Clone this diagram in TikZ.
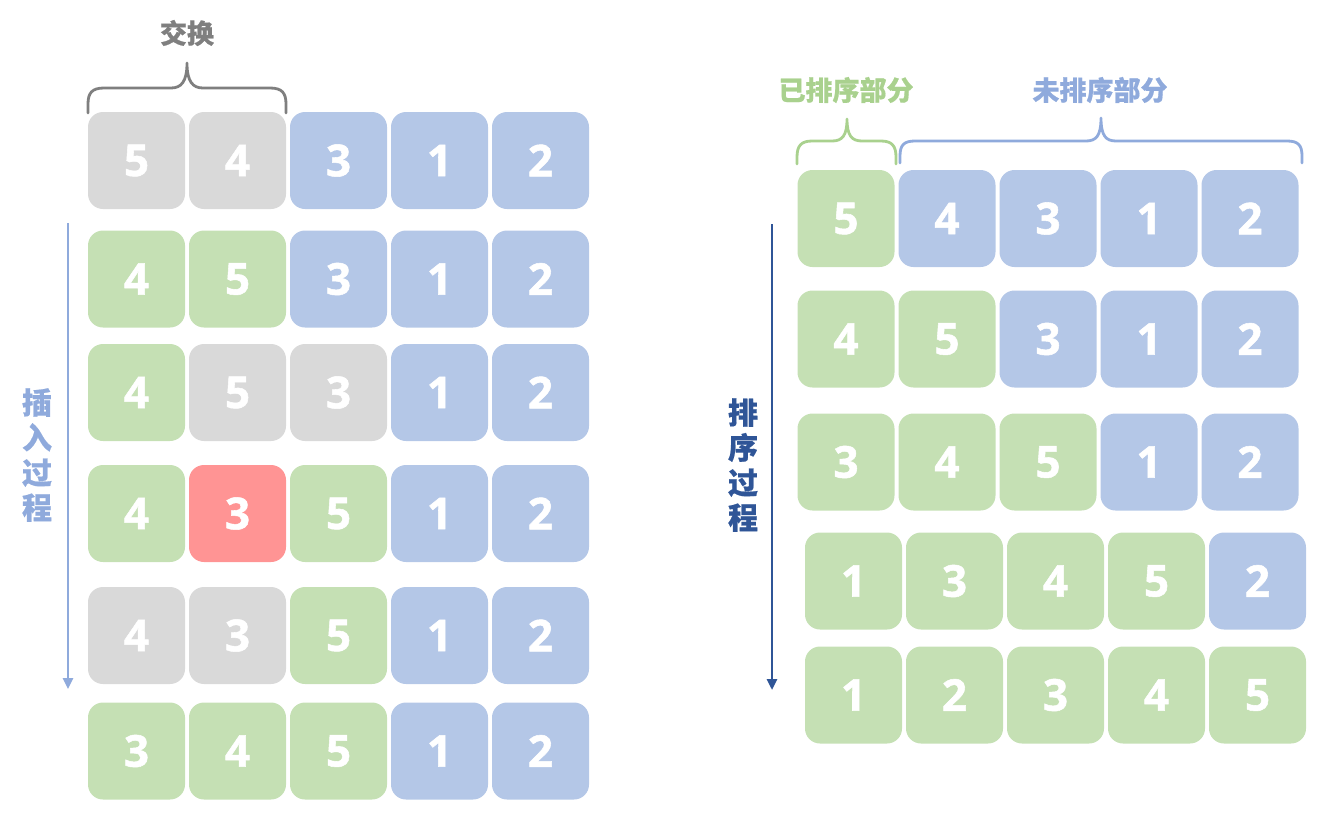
\documentclass[tikz,border=0pt]{standalone}
\usepackage{fontspec}
\usetikzlibrary{arrows.meta}
\newfontfamily\digitfont{Open Sans}[BoldFeatures={FakeBold=1.2}]
\newfontfamily\cjk{Noto Sans CJK SC}[BoldFeatures={FakeBold=0.6}]
\definecolor{cgray}{HTML}{D9D9D9}
\definecolor{cblue}{HTML}{B4C7E7}
\definecolor{cgreen}{HTML}{C5E0B4}
\definecolor{cred}{HTML}{FF9494}
\definecolor{bgray}{HTML}{7F7F7F}
\definecolor{lblue}{HTML}{8FAADC}
\definecolor{dblue}{HTML}{2F5597}
\definecolor{lgreen}{HTML}{A9D18E}
\tikzset{
  cell/.style={rounded corners=15pt, minimum width=97pt, minimum height=97pt, inner sep=0pt,
    text=white, font=\digitfont\bfseries\fontsize{44}{44}\selectfont},
  G/.style={cell, fill=cgray},
  B/.style={cell, fill=cblue},
  E/.style={cell, fill=cgreen},
  R/.style={cell, fill=cred},
  bracepath/.style={line width=2.8pt, line cap=round, line join=round},
  toplabel/.style={font=\cjk\bfseries\fontsize{27}{27}\selectfont},
  sidelabel/.style={font=\cjk\bfseries\fontsize{30}{35}\selectfont, align=center},
  flow/.style={line width=2.6pt, -{Triangle[width=10pt,length=11pt]}}
}
\begin{document}
\begin{tikzpicture}[x=1pt,y=-1pt]
\useasboundingbox (0,0) rectangle (1329,820);
% ---------- left grid ----------
\foreach \r/\y/\a/\b/\c/\d/\e/\ta/\tb/\tc/\td/\te in {
  1/160.5/G/G/B/B/B/5/4/3/1/2,
  2/279/E/E/B/B/B/4/5/3/1/2,
  3/392.5/E/G/G/B/B/4/5/3/1/2,
  4/513.5/E/R/E/B/B/4/3/5/1/2,
  5/635.5/G/G/E/B/B/4/3/5/1/2,
  6/751/E/E/E/B/B/3/4/5/1/2}{
  \node[\a] (L\r1) at (136.5,\y) {\ta};
  \node[\b] (L\r2) at (237.5,\y) {\tb};
  \node[\c] (L\r3) at (338.5,\y) {\tc};
  \node[\d] (L\r4) at (439.5,\y) {\td};
  \node[\e] (L\r5) at (540.5,\y) {\te};
}
% brace over swap
\draw[bracepath, bgray] (88,113) -- (88,104) .. controls (88,93) and (92,88) .. (104,88) -- (171,88)
  .. controls (181,88) and (187,82) .. (187,63) .. controls (187,82) and (193,88) .. (203,88)
  -- (270,88) .. controls (282,88) and (286,93) .. (286,104) -- (286,113);
\node[toplabel, text=bgray] (swap) at (187,33) {交换};
% left arrow & label
\coordinate (la1) at (68,223);
\coordinate (la2) at (68,689);
\draw[flow, lblue] (la1) -- (la2);
\node[sidelabel, text=lblue] (insl) at (37,455) {插\\入\\过\\程};
% ---------- right grid ----------
\foreach \r/\y/\x/\a/\b/\c/\d/\e/\ta/\tb/\tc/\td/\te in {
  1/218.5/846/E/B/B/B/B/5/4/3/1/2,
  2/339/846/E/E/B/B/B/4/5/3/1/2,
  3/462/846/E/E/E/B/B/3/4/5/1/2,
  4/581/853.5/E/E/E/E/B/1/3/4/5/2,
  5/695/853.5/E/E/E/E/E/1/2/3/4/5}{
  \node[\a] (R\r1) at (\x,\y) {\ta};
  \node[\b] (R\r2) at (\x+101,\y) {\tb};
  \node[\c] (R\r3) at (\x+202,\y) {\tc};
  \node[\d] (R\r4) at (\x+303,\y) {\td};
  \node[\e] (R\r5) at (\x+404,\y) {\te};
}
% braces
\draw[bracepath, lgreen] (797,164) -- (797,157) .. controls (797,146) and (801,141) .. (812,141) -- (832,141)
  .. controls (842,141) and (847,136) .. (847,119) .. controls (847,136) and (852,141) .. (862,141)
  -- (881,141) .. controls (892,141) and (896,146) .. (896,157) -- (896,164);
\node[toplabel, text=lgreen] (sortedl) at (846,90) {已排序部分};
\draw[bracepath, lblue] (900,163) -- (900,156) .. controls (900,145) and (904,141) .. (915,141) -- (1086,141)
  .. controls (1096,141) and (1101,136) .. (1101,118) .. controls (1101,136) and (1106,141) .. (1116,141)
  -- (1287,141) .. controls (1298,141) and (1302,145) .. (1302,156) -- (1302,163);
\node[toplabel, text=lblue] (unsortedl) at (1100,90) {未排序部分};
% right arrow & label
\coordinate (ra1) at (772,224);
\coordinate (ra2) at (772,690);
\draw[flow, dblue] (ra1) -- (ra2);
\node[sidelabel, text=dblue] (sortl) at (743,465) {排\\序\\过\\程};
\end{tikzpicture}
\end{document}
